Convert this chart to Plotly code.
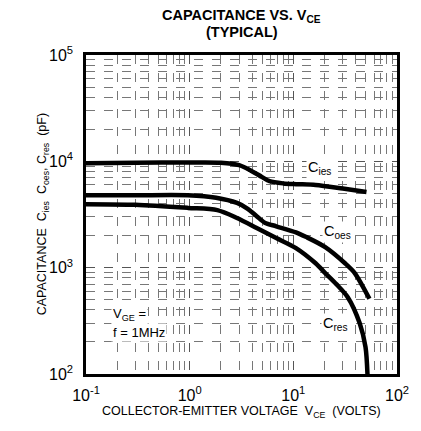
import plotly.graph_objects as go

# Data
v_ies = [0.1, 0.3, 1.0, 2.0, 3.0, 3.8, 5.0, 5.9, 8.0, 10.6, 16.4, 30.0, 50.8]
c_ies = [9600, 9700, 9750, 9700, 9200, 8300, 7100, 6500, 6200, 6100, 6000, 5550, 5150]

v_oes = [0.1, 0.3, 0.96, 1.8, 2.86, 3.6, 4.43, 5.3, 6.84, 10.6, 13.2, 20.3, 31.5, 39.1, 54.2]
c_oes = [4800, 4800, 4800, 4550, 4060, 3600, 3050, 2650, 2450, 2150, 1950, 1560, 1100, 890, 510]

v_res = [0.1, 0.3, 0.96, 1.85, 2.86, 4.43, 6.84, 10.6, 16.4, 20.3, 26.0, 33.5, 43.6, 49.7, 51.9]
c_res = [3950, 3900, 3650, 3480, 2930, 2360, 1900, 1530, 1100, 890, 700, 528, 301, 179, 100]

x_tickvals = [0.1, 1, 10, 100]
x_ticktext = ["10<sup>-1</sup>", "10<sup>0</sup>", "10<sup>1</sup>", "10<sup>2</sup>"]
y_tickvals = [100, 1000, 10000, 100000]
y_ticktext = ["10<sup>2</sup>", "10<sup>3</sup>", "10<sup>4</sup>", "10<sup>5</sup>"]

FONT = "Liberation Sans, Arial, sans-serif"

fig = go.Figure()
for xs, ys in [(v_ies, c_ies), (v_oes, c_oes), (v_res, c_res)]:
    fig.add_trace(go.Scatter(x=xs, y=ys, mode="lines",
                             line=dict(color="black", width=4.5, shape="spline", smoothing=0.8),
                             showlegend=False, hoverinfo="skip"))

grid = dict(showgrid=True, gridcolor="#555", gridwidth=1, griddash="dash")
minor = dict(showgrid=True, gridcolor="#777", gridwidth=1, griddash="dash", dtick="D1", ticks="")
fig.update_xaxes(type="log", range=[-1, 2], tickvals=x_tickvals, ticktext=x_ticktext,
                 showline=True, linecolor="black", linewidth=2.5, mirror=True,
                 ticks="", tickfont=dict(size=16, color="black", family=FONT),
                 ticklabelstandoff=5,
                 minor=minor, zeroline=False, **grid)
fig.update_yaxes(type="log", range=[2, 5], tickvals=y_tickvals, ticktext=y_ticktext,
                 showline=True, linecolor="black", linewidth=2.5, mirror=True,
                 ticks="", tickfont=dict(size=16, color="black", family=FONT),
                 ticklabelstandoff=7,
                 minor=minor, zeroline=False, **grid)

ann_font = dict(size=13, color="black", family=FONT)
c_font = dict(size=14.5, color="black", family=FONT)
annotations = [
    dict(x=1.25, y=3.937, xref="x", yref="y", text="C<sub>ies</sub>", showarrow=False,
         font=c_font, bgcolor="white"),
    dict(x=1.422, y=3.335, xref="x", yref="y", text="C<sub>oes</sub>", showarrow=False,
         font=c_font, bgcolor="white"),
    dict(x=1.403, y=2.469, xref="x", yref="y", text="C<sub>res</sub>", showarrow=False,
         font=c_font, bgcolor="white"),
    dict(x=-0.755, y=2.564, xref="x", yref="y", text="V<sub>GE</sub> =", showarrow=False,
         xanchor="left", font=ann_font, bgcolor="white"),
    dict(x=-0.755, y=2.394, xref="x", yref="y", text="f = 1MHz", showarrow=False,
         xanchor="left", font=ann_font, bgcolor="white"),
    dict(x=0.5, y=1.122, xref="paper", yref="paper", yanchor="middle", xanchor="center",
         text="<b>CAPACITANCE VS. V<sub>CE</sub></b>", showarrow=False,
         font=dict(size=14.5, color="black", family=FONT)),
    dict(x=0.5, y=1.072, xref="paper", yref="paper", yanchor="middle", xanchor="center",
         text="<b>(TYPICAL)</b>", showarrow=False,
         font=dict(size=14.5, color="black", family=FONT)),
    dict(x=0.5, y=-0.119, xref="paper", yref="paper", yanchor="middle", xanchor="center",
         text="COLLECTOR-EMITTER VOLTAGE  V<sub>CE</sub>  (VOLTS)", showarrow=False,
         font=dict(size=12.5, color="black", family=FONT)),
    dict(x=-0.139, y=0.5, xref="paper", yref="paper", yanchor="middle", xanchor="center",
         textangle=-90,
         text="CAPACITANCE  C<sub>ies</sub>  C<sub>oes</sub>, C<sub>res</sub>  (pF)", showarrow=False,
         font=dict(size=12.5, color="black", family=FONT)),
]

fig.update_layout(width=421, height=431, margin=dict(l=86, r=18, t=55, b=57),
                  paper_bgcolor="white", plot_bgcolor="white",
                  annotations=annotations, showlegend=False)

fig.write_html("out.html", config={"displayModeBar": False},
               post_script="document.body.style.margin='0';document.body.style.overflow='hidden';")
